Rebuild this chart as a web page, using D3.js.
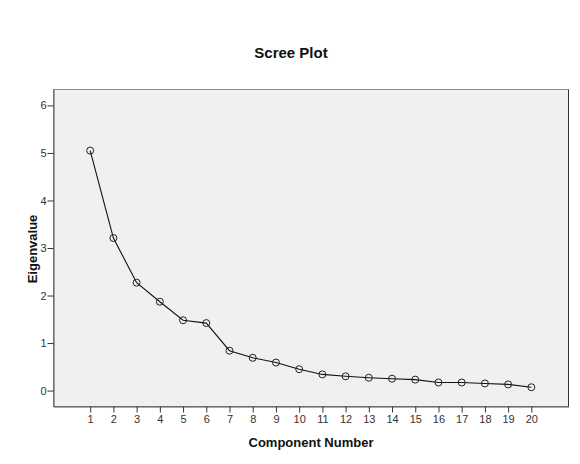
<!DOCTYPE html>
<html>
<head>
<meta charset="utf-8">
<script src="https://cdn.jsdelivr.net/npm/d3@7"></script>
<style>
  body { margin: 0; background: #fff; }
  svg { display: block; }
</style>
</head>
<body>
<div id="chart"></div>
<script>
// scree plot data
var components = [1, 2, 3, 4, 5, 6, 7, 8, 9, 10, 11, 12, 13, 14, 15, 16, 17, 18, 19, 20];
var eigenvalues = [5.05, 3.21, 2.27, 1.87, 1.48, 1.42, 0.84, 0.69, 0.59, 0.45,
                   0.34, 0.30, 0.27, 0.25, 0.23, 0.17, 0.17, 0.15, 0.13, 0.07];
var yTicks = [0, 1, 2, 3, 4, 5, 6];

var width = 580;
var height = 464;
var plot = {left: 53.5, top: 89.5, right: 568.5, bottom: 406.5};

var svg = d3.select("#chart")
    .append("svg")
    .attr("width", width)
    .attr("height", height)
    .style("font-family", "'Liberation Sans', Arial, sans-serif");

var x = d3.scaleLinear()
    .domain([-0.58, 21.6])
    .range([plot.left, plot.right]);

var y = d3.scaleLinear()
    .domain([-0.335, 6.335])
    .range([plot.bottom, plot.top]);

// plot background
svg.append("rect")
    .attr("x", plot.left)
    .attr("y", plot.top)
    .attr("width", plot.right - plot.left)
    .attr("height", plot.bottom - plot.top)
    .style("fill", "#f0f0f0")
    .style("stroke", "#8a8a8a")
    .style("stroke-width", 1);

// right edge a bit darker like the original
svg.append("line")
    .attr("x1", plot.right).attr("x2", plot.right)
    .attr("y1", plot.top).attr("y2", plot.bottom)
    .style("stroke", "#333");

var xAxis = svg.append("g")
    .attr("transform", "translate(0," + plot.bottom + ")")
    .call(d3.axisBottom(x).tickValues(components).tickFormat(d3.format("d"))
        .tickSize(6).tickSizeOuter(0).tickPadding(3));

var yAxis = svg.append("g")
    .attr("transform", "translate(" + plot.left + ",0)")
    .call(d3.axisLeft(y).tickValues(yTicks).tickFormat(d3.format("d"))
        .tickSize(6).tickSizeOuter(0).tickPadding(1));

[xAxis, yAxis].forEach(function (ax) {
    ax.select(".domain").style("stroke", "#555");
    ax.selectAll(".tick line").style("stroke", "#333");
    ax.selectAll(".tick text")
        .style("font-family", "'Liberation Sans', Arial, sans-serif")
        .style("font-size", "11px")
        .style("fill", "#333");
});

// line + markers
var line = d3.line()
    .x(function (d, i) { return x(components[i]); })
    .y(function (d) { return y(d); });

svg.append("path")
    .datum(eigenvalues)
    .attr("d", line)
    .style("fill", "none")
    .style("stroke", "#111")
    .style("stroke-width", 1.1);

svg.selectAll("circle.pt")
    .data(eigenvalues)
    .enter()
    .append("circle")
    .attr("class", "pt")
    .attr("cx", function (d, i) { return x(components[i]); })
    .attr("cy", function (d) { return y(d); })
    .attr("r", 3.5)
    .style("fill", "none")
    .style("stroke", "#222")
    .style("stroke-width", 1);

// title
svg.append("text")
    .attr("x", 291)
    .attr("y", 58)
    .attr("text-anchor", "middle")
    .style("font-size", "15px")
    .style("font-weight", "bold")
    .style("fill", "#111")
    .text("Scree Plot");

// x label
svg.append("text")
    .attr("x", 311)
    .attr("y", 447)
    .attr("text-anchor", "middle")
    .style("font-size", "13px")
    .style("font-weight", "bold")
    .style("fill", "#111")
    .text("Component Number");

// y label
svg.append("text")
    .attr("transform", "translate(37,249) rotate(-90)")
    .attr("text-anchor", "middle")
    .style("font-size", "13px")
    .style("font-weight", "bold")
    .style("fill", "#111")
    .text("Eigenvalue");
</script>
</body>
</html>
